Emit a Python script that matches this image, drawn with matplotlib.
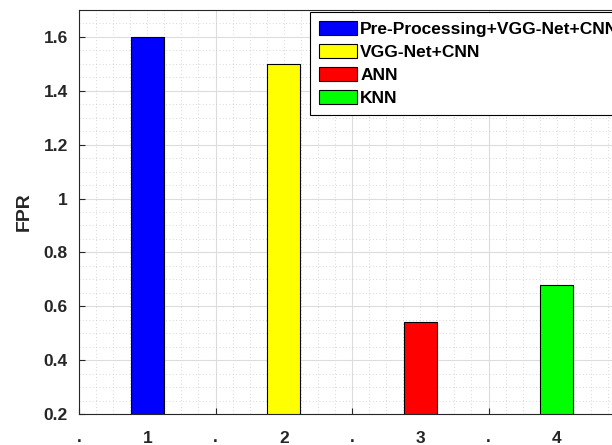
import numpy as np
import matplotlib
matplotlib.use("Agg")
import matplotlib.pyplot as plt

plt.rcParams['font.family'] = ['Liberation Sans', 'DejaVu Sans']
plt.rcParams['font.weight'] = 'bold'

# data
methods = ["Pre-Processing+VGG-Net+CNN", "VGG-Net+CNN", "ANN", "KNN"]
positions = [1, 2, 3, 4]
fpr = [1.6, 1.5, 0.54, 0.68]
bar_colors = ["#0000ff", "#ffff00", "#ff0000", "#00ff00"]
x_labels = ["1", "2", "3", "4"]
group_edges = [0.5, 1.5, 2.5, 3.5, 4.5]
edge_labels = [".", ".", ".", ".", ""]
y_ticks = [0.2, 0.4, 0.6, 0.8, 1.0, 1.2, 1.4, 1.6]
y_labels = ["0.2", "0.4", "0.6", "0.8", "1", "1.2", "1.4", "1.6"]

fig = plt.figure(figsize=(6.12, 4.45), dpi=100)
ax = fig.add_axes([79/612, 31/445, 546/612, 404/445])

for p, v, c, m in zip(positions, fpr, bar_colors, methods):
    ax.bar(p, v - 0.2, bottom=0.2, width=0.245, color=c, edgecolor='black',
           linewidth=0.8, label=m, zorder=3)

ax.set_xlim(0.5, 4.5)
ax.set_ylim(0.2, 1.7)

ax.set_xticks(group_edges)
ax.set_xticklabels(edge_labels)
ax.set_xticks(np.arange(0.5, 4.5001, 0.125), minor=True)
ax.set_yticks(y_ticks)
ax.set_yticklabels(y_labels)
ax.set_yticks(np.arange(0.2, 1.7001, 0.05), minor=True)

ax.tick_params(axis='both', which='major', direction='in', length=4,
               width=0.8, color='#262626', labelsize=12.5, labelcolor='#262626')
ax.tick_params(axis='x', which='major', pad=11.5)
ax.tick_params(axis='y', which='major', pad=8)
ax.tick_params(which='minor', length=0)

ax.grid(True, which='major', color='#dcdcdc', linewidth=0.8, zorder=0)
ax.grid(True, which='minor', color='#c8c8c8', linewidth=0.6,
        linestyle=(0, (1, 3)), zorder=0)
ax.set_axisbelow(True)

sec = ax.secondary_xaxis('bottom')
sec.set_xticks(positions)
sec.set_xticklabels(x_labels)
sec.tick_params(length=0, pad=12, labelsize=12.5, labelcolor='#262626')
sec.spines['bottom'].set_visible(False)

for s in ax.spines.values():
    s.set_color('#262626')
    s.set_linewidth(0.8)

ax.set_ylabel("FPR", fontsize=14, fontweight='bold', color='#262626', labelpad=8)

leg = ax.legend(loc='upper left', bbox_to_anchor=(0.423, 0.995), fontsize=12.5,
                frameon=True, fancybox=False, framealpha=1, edgecolor='black',
                handlelength=2.2, handleheight=0.85, handletextpad=0.2,
                labelspacing=0.42, borderpad=0.5, borderaxespad=0)
leg.get_frame().set_linewidth(0.8)
for t in leg.get_texts():
    t.set_fontweight('bold')

fig.savefig("out.png", dpi=100)
